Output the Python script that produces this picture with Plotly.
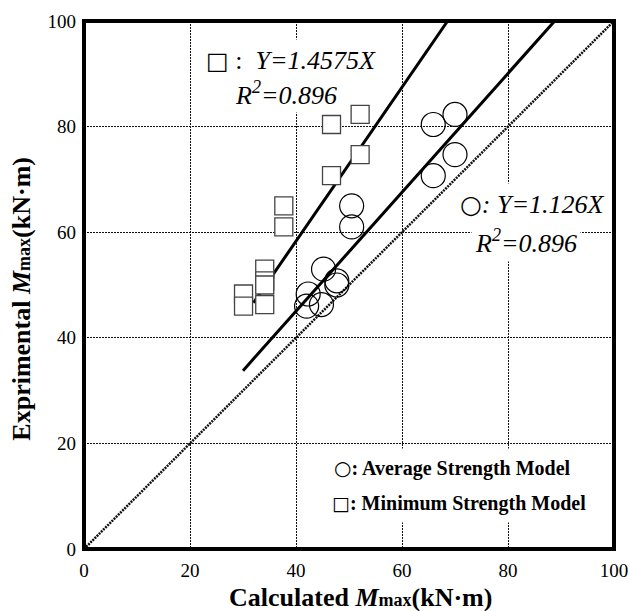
import plotly.graph_objects as go

# Measured maximum moments (kN·m) for the twelve specimens
exp_mmax = [82.3, 80.4, 74.7, 70.7, 65.0, 61.0, 53.0, 50.8, 50.0, 48.3, 46.3, 46.0]
# Calculated maximum moments, average-strength model
calc_avg = [70.0, 65.9, 70.0, 65.9, 50.5, 50.5, 45.2, 47.7, 47.7, 42.3, 44.8, 42.0]
# Calculated maximum moments, minimum-strength model
calc_min = [52.1, 46.7, 52.1, 46.7, 37.7, 37.7, 34.1, 34.1, 34.1, 30.1, 34.1, 30.1]

# Regression through the origin: slope and R^2 for each model
slope_avg = 1.126
slope_min = 1.4575
r2_avg = "0.896"
r2_min = "0.896"
# x-range over which each fitted line is drawn
fit_x_start_avg = 30.0
fit_x_start_min = 32.0

axis_max = 100.0
ticks = [0, 20, 40, 60, 80, 100]

SERIF = "Liberation Serif, Times New Roman, serif"


def sym(ch, px):
    return ('<span style="font-family:DejaVu Sans;font-size:%dpx">%s</span>'
            % (px, ch))


fig = go.Figure()

# 1:1 reference line
fig.add_trace(go.Scatter(
    x=[0, axis_max], y=[0, axis_max], mode="lines",
    line=dict(color="#111111", width=2.5, dash="2px,1px"),
    hoverinfo="skip", showlegend=False))

# Fitted lines Y = a X, clipped at the top of the plot
for a, x0 in [(slope_min, fit_x_start_min), (slope_avg, fit_x_start_avg)]:
    x1 = axis_max / a
    fig.add_trace(go.Scatter(
        x=[x0, x1], y=[a * x0, a * x1], mode="lines",
        line=dict(color="black", width=3),
        hoverinfo="skip", showlegend=False))

# Average strength model points
fig.add_trace(go.Scatter(
    x=calc_avg, y=exp_mmax, mode="markers", name="Average Strength Model",
    marker=dict(symbol="circle-open", size=24, color="black",
                line=dict(color="black", width=1.2)),
    showlegend=False))

# Minimum strength model points
fig.add_trace(go.Scatter(
    x=calc_min, y=exp_mmax, mode="markers", name="Minimum Strength Model",
    marker=dict(symbol="square", size=18, color="white",
                line=dict(color="#444444", width=1.3)),
    showlegend=False))

ann = []


def note(x, y, text, size, xanchor="center", pad=4, xref="x", yref="y",
         angle=0):
    ann.append(dict(x=x, y=y, xref=xref, yref=yref, text=text,
                    showarrow=False, xanchor=xanchor, yanchor="middle",
                    font=dict(family=SERIF, size=size, color="black"),
                    bgcolor="white" if pad else None, borderpad=pad,
                    textangle=angle))


# Equation labels
note(39.0, 92.6, sym("□", 24) + "\u00a0:\u00a0\u00a0<i>Y=%sX</i>" % slope_min, 26, pad=6)
note(38.1, 86.3, "<i>R<sup>2</sup>=%s</i>" % r2_min, 26, pad=2)
note(84.6, 65.2, sym("○", 25) + "<i>: Y=%sX</i>" % slope_avg, 26, pad=6)
note(83.4, 58.2, "<i>R<sup>2</sup>=%s</i>" % r2_avg, 26, pad=3)

# Marker key
note(45.6, 15.3, sym("○", 20) + "<b>: Average Strength Model</b>", 20, xanchor="left", pad=7)
note(45.3, 8.7, sym("□", 19) + "<b>: Minimum Strength Model</b>", 20, xanchor="left", pad=7)

# Axis titles
MMAX = '<i>M</i><span style="font-size:18px">max</span>'
note(0.5208, -0.091, "<b>Calculated %s(kN·m)</b>" % MMAX, 26,
     xref="paper", yref="paper", pad=0)
note(-0.118, 0.475, "<b>Exprimental %s(kN·m)</b>" % MMAX, 26,
     xref="paper", yref="paper", pad=0, angle=-90)

axis_common = dict(
    range=[0, axis_max], tickvals=ticks, ticktext=[str(t) for t in ticks],
    showgrid=True, gridcolor="#111111", gridwidth=1, griddash="2px,1px",
    zeroline=False, showline=False, ticks="", automargin=False,
    tickfont=dict(family=SERIF, size=19, color="black"),
    fixedrange=True,
)

fig.update_layout(
    width=630, height=611,
    margin=dict(l=84, r=16, t=21, b=62),
    paper_bgcolor="white", plot_bgcolor="white",
    xaxis=dict(**axis_common, ticklabelstandoff=8),
    yaxis=dict(**axis_common, ticklabelstandoff=7),
    annotations=ann,
    shapes=[dict(type="rect", xref="paper", yref="paper", x0=0, y0=0,
                 x1=1, y1=1, line=dict(color="black", width=4),
                 layer="above")],
    showlegend=False,
)

fig.write_html("out.html")
